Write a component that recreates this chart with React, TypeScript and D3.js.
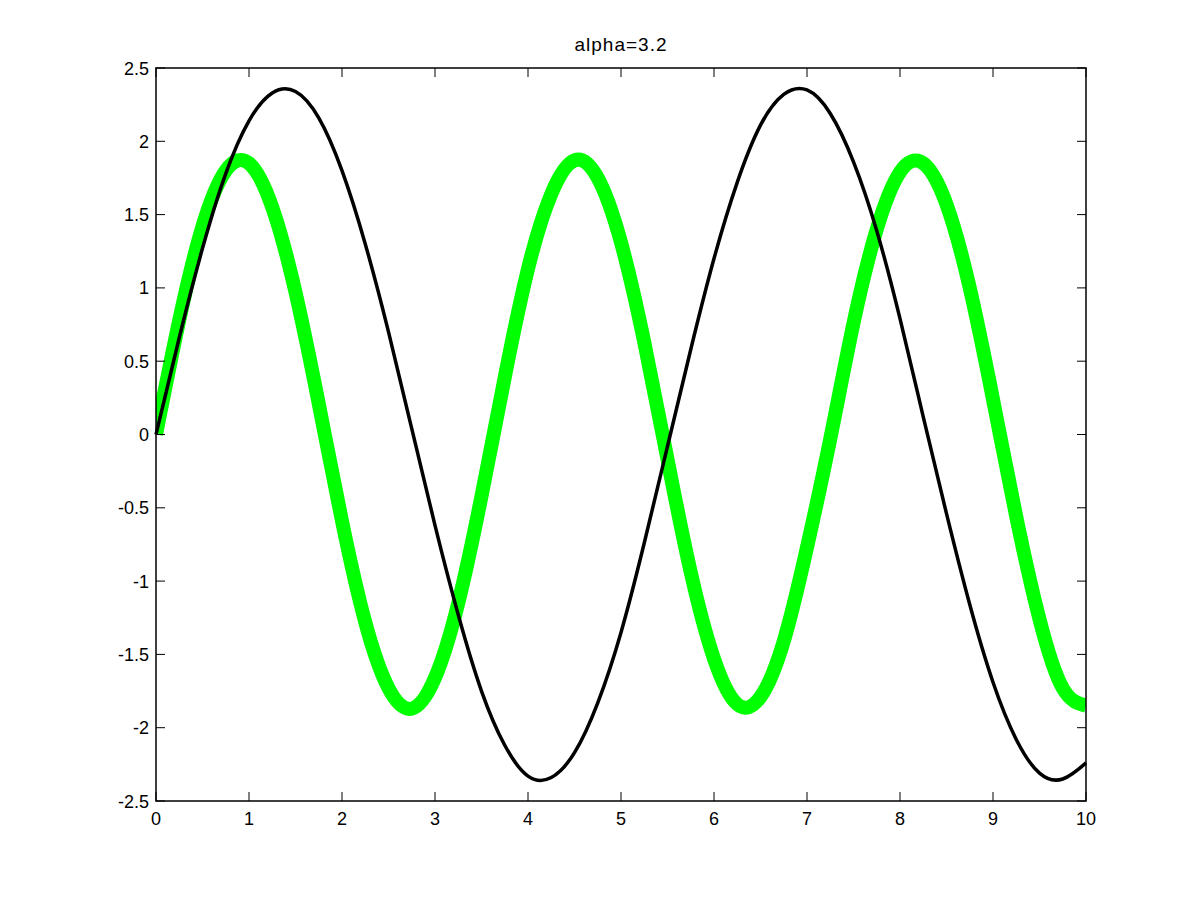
import * as d3 from "d3";
import React, { useRef, useEffect } from "react";

const xs = d3.range(0, 10.001, 0.25);
const blackVals = [
  0, 0.66, 1.27, 1.78, 2.14, 2.33, 2.34, 2.16, 1.8, 1.3, 0.7, 0.04, -0.62,
  -1.23, -1.75, -2.12, -2.33, -2.34, -2.17, -1.83, -1.35, -0.74, -0.08, 0.58,
  1.2, 1.72, 2.11, 2.32, 2.35, 2.19, 1.86, 1.39, 0.79, 0.12, -0.54, -1.16,
  -1.69, -2.08, -2.31, -2.35, -2.24,
];
const greenVals = [
  0, 0.78, 1.42, 1.8, 1.85, 1.55, 0.97, 0.21, -0.59, -1.28, -1.73, -1.87,
  -1.66, -1.15, -0.42, 0.39, 1.13, 1.64, 1.87, 1.75, 1.31, 0.63, -0.17, -0.94,
  -1.53, -1.84, -1.79, -1.41, -0.77, -0.03, 0.76, 1.4, 1.79, 1.85, 1.57, 1.0,
  0.24, -0.56, -1.26, -1.73, -1.85,
];
const xTicks = [0, 1, 2, 3, 4, 5, 6, 7, 8, 9, 10];
const yTicks = [-2.5, -2, -1.5, -1, -0.5, 0, 0.5, 1, 1.5, 2, 2.5];
const title = "alpha=3.2";

const W = 1200;
const H = 900;
const margin = { top: 68, right: 114, bottom: 99, left: 156 };

function App() {
  const ref = useRef<SVGSVGElement>(null);

  useEffect(() => {
    const svg = d3.select(ref.current);
    svg.selectAll("*").remove();
    const w = W - margin.left - margin.right;
    const h = H - margin.top - margin.bottom;
    const font = "'Liberation Sans', Arial, sans-serif";

    svg.append("rect").attr("width", W).attr("height", H).attr("fill", "#fff");

    const g = svg
      .append("g")
      .attr("transform", "translate(" + margin.left + "," + margin.top + ")");

    var x = d3.scaleLinear().domain([0, 10]).range([0, w]);
    var y = d3.scaleLinear().domain([-2.5, 2.5]).range([h, 0]);

    g.append("clipPath")
      .attr("id", "plotclip")
      .append("rect")
      .attr("width", w)
      .attr("height", h);

    const line = d3
      .line<number>()
      .x((d, i) => x(xs[i]))
      .y((d) => y(d))
      .curve(d3.curveNatural);

    g.append("path")
      .datum(greenVals)
      .attr("d", line)
      .attr("fill", "none")
      .attr("stroke", "#00ff00")
      .attr("stroke-width", 14)
      .attr("clip-path", "url(#plotclip)");

    g.append("path")
      .datum(blackVals)
      .attr("d", line)
      .attr("fill", "none")
      .attr("stroke", "#000")
      .attr("stroke-width", 3.5);

    // frame
    g.append("rect")
      .attr("width", w)
      .attr("height", h)
      .attr("fill", "none")
      .attr("stroke", "#000")
      .attr("stroke-width", 1.5);

    const tk = 9;
    // x ticks bottom + top
    xTicks.forEach((t) => {
      g.append("line").attr("x1", x(t)).attr("x2", x(t)).attr("y1", h).attr("y2", h - tk).attr("stroke", "#000");
      g.append("line").attr("x1", x(t)).attr("x2", x(t)).attr("y1", 0).attr("y2", tk).attr("stroke", "#000");
      g.append("text")
        .attr("x", x(t))
        .attr("y", h + 24)
        .attr("text-anchor", "middle")
        .attr("font-family", font)
        .attr("font-size", 18)
        .text(String(t));
    });
    // y ticks left + right
    yTicks.forEach((t) => {
      g.append("line").attr("x1", 0).attr("x2", tk).attr("y1", y(t)).attr("y2", y(t)).attr("stroke", "#000");
      g.append("line").attr("x1", w).attr("x2", w - tk).attr("y1", y(t)).attr("y2", y(t)).attr("stroke", "#000");
      g.append("text")
        .attr("x", -7)
        .attr("y", y(t) + 6.5)
        .attr("text-anchor", "end")
        .attr("font-family", font)
        .attr("font-size", 18)
        .text(String(t));
    });

    g.append("text")
      .attr("x", w / 2)
      .attr("y", -17)
      .attr("text-anchor", "middle")
      .attr("font-family", font)
      .attr("font-size", 19)
      .attr("letter-spacing", 1)
      .text(title);
  }, []);

  return (
    <svg
      ref={ref}
      width={W}
      height={H}
      style={{ position: "absolute", left: 0, top: 0 }}
    ></svg>
  );
}
export default App;
